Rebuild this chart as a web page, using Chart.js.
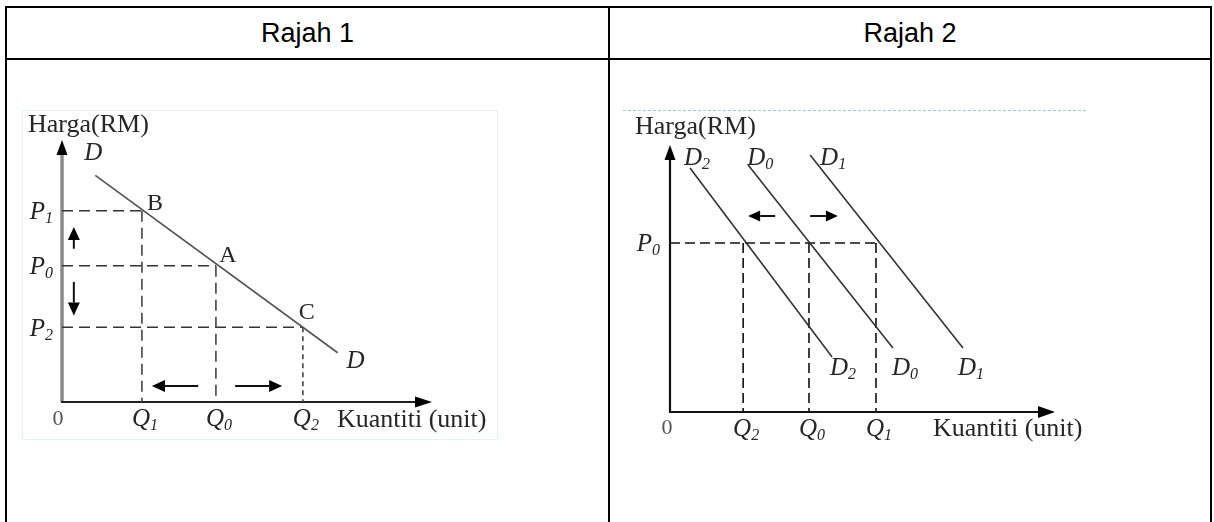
<!DOCTYPE html>
<html>
<head>
<meta charset="utf-8">
<script src="https://cdn.jsdelivr.net/npm/chart.js@4.4.1/dist/chart.umd.min.js"></script>
<style>
  html, body { margin: 0; padding: 0; background: #fff; }
  body { width: 1214px; height: 522px; overflow: hidden; position: relative; font-family: "Liberation Sans", Arial, sans-serif; }
  .frame { position: absolute; left: 5px; top: 6px; width: 1207px; height: 540px; border: 2px solid #000; box-sizing: border-box; }
  .hline { position: absolute; left: 5px; top: 58px; width: 1207px; height: 2px; background: #000; }
  .vline { position: absolute; left: 608px; top: 6px; width: 2px; height: 540px; background: #000; }
  .head { position: absolute; top: 8px; height: 50px; line-height: 50px; text-align: center; font-size: 27px; color: #000; }
  .box { position: absolute; top: 60px; height: 462px; }
</style>
</head>
<body>
<div class="frame"></div>
<div class="hline"></div>
<div class="vline"></div>
<div class="head" style="left:7px;width:601px;">Rajah 1</div>
<div class="head" style="left:610px;width:600px;">Rajah 2</div>
<div class="box" style="left:7px;width:601px;"><canvas id="rajah1"></canvas></div>
<div class="box" style="left:610px;width:600px;"><canvas id="rajah2"></canvas></div>

<script>
// ---- Rajah 1: movement along the demand curve ----
const r1CurveQ = [0.9, 7.45];
const r1CurveP = [8.65, 1.88];
const r1PriceLevels = [7.3, 5.2, 2.85];     // P1, P0, P2
const r1QtyLevels = [2.16, 4.16, 6.51];      // Q1, Q0, Q2
const r1PriceLabels = [["P", "1"], ["P", "0"], ["P", "2"]];
const r1QtyLabels = [["Q", "1"], ["Q", "0"], ["Q", "2"]];
const r1PointLabels = ["B", "A", "C"];
const r1PriceArrows = [[0.32, 5.85, 0.32, 6.68], [0.32, 4.58, 0.32, 3.3]];
const r1QtyArrows = [[3.68, 0.61, 2.43, 0.61], [4.68, 0.61, 5.95, 0.61]];

// ---- Rajah 2: shifts of the demand curve ----
const r2CurveNames = [["D", "2"], ["D", "0"], ["D", "1"]];
const r2StartQ = [0.52, 2.03, 3.64];
const r2StartP = [9.14, 9.25, 9.63];
const r2EndQ = [4.21, 5.79, 7.61];
const r2EndP = [2.06, 2.4, 2.4];
const r2PriceLevel = 6.33;                   // P0
const r2QtyLevels = [1.9, 3.61, 5.35];       // Q2, Q0, Q1
const r2QtyLabels = [["Q", "2"], ["Q", "0"], ["Q", "1"]];
const r2ShiftArrows = [[2.73, 7.34, 2.03, 7.34], [3.64, 7.34, 4.36, 7.34]];

const SERIF = '"Liberation Serif", "Times New Roman", serif';
const INK = "#262626";
Chart.defaults.animation = false;

function px(chart, q, p) {
  return [chart.scales.x.getPixelForValue(q), chart.scales.y.getPixelForValue(p)];
}

function arrow(ctx, x1, y1, x2, y2, len, half, color, lw) {
  const a = Math.atan2(y2 - y1, x2 - x1);
  const bx = x2 - Math.cos(a) * len, by = y2 - Math.sin(a) * len;
  ctx.save();
  ctx.strokeStyle = color;
  ctx.fillStyle = "#000";
  ctx.lineWidth = lw;
  ctx.beginPath();
  ctx.moveTo(x1, y1);
  ctx.lineTo(bx, by);
  ctx.stroke();
  ctx.beginPath();
  ctx.moveTo(x2, y2);
  ctx.lineTo(bx + Math.sin(a) * half, by - Math.cos(a) * half);
  ctx.lineTo(bx - Math.sin(a) * half, by + Math.cos(a) * half);
  ctx.closePath();
  ctx.fill();
  ctx.restore();
}

function subText(ctx, main, sub, x, cy, align, size, color) {
  const subSize = Math.round(size * 0.62);
  ctx.font = "italic " + size + "px " + SERIF;
  const w1 = ctx.measureText(main).width;
  ctx.font = "italic " + subSize + "px " + SERIF;
  const w2 = ctx.measureText(sub).width;
  const total = w1 + w2;
  const left = align === "right" ? x - total : align === "center" ? x - total / 2 : x;
  const base = cy + size * 0.33;
  ctx.fillStyle = color || INK;
  ctx.textAlign = "left";
  ctx.textBaseline = "alphabetic";
  ctx.font = "italic " + size + "px " + SERIF;
  ctx.fillText(main, left, base);
  ctx.font = "italic " + subSize + "px " + SERIF;
  ctx.fillText(sub, left + w1, base + size * 0.16);
}

function plainText(ctx, text, x, cy, align, size, color, italic) {
  ctx.font = (italic ? "italic " : "") + size + "px " + SERIF;
  ctx.fillStyle = color || INK;
  ctx.textAlign = align;
  ctx.textBaseline = "alphabetic";
  ctx.fillText(text, x, cy + size * 0.33);
}

function segment(q1, p1, q2, p2, color, width, dash) {
  return {
    data: [{ x: q1, y: p1 }, { x: q2, y: p2 }],
    showLine: true,
    borderColor: color,
    borderWidth: width,
    borderDash: dash || [],
    pointRadius: 0,
    clip: false
  };
}

function baseOptions(padding) {
  return {
    responsive: true,
    maintainAspectRatio: false,
    layout: { padding: padding },
    plugins: { legend: { display: false }, tooltip: { enabled: false } },
    scales: {
      x: { type: "linear", min: 0, max: 10, display: false },
      y: { type: "linear", min: 0, max: 10, display: false }
    }
  };
}

// Rajah 1 datasets
const r1Sets = [segment(r1CurveQ[0], r1CurveP[0], r1CurveQ[1], r1CurveP[1], "#555", 1.7)];
r1PriceLevels.forEach((p, i) => {
  const q = r1QtyLevels[i];
  r1Sets.push(segment(0, p, q, p, "#333", 1.5, [11, 6]));
  r1Sets.push(segment(q, p, q, 0, "#444", 1.6, i === 2 ? [5, 4] : [11, 6]));
});

const r1Draw = {
  id: "r1Draw",
  beforeDatasetsDraw(chart) {
    const ctx = chart.ctx;
    const [ox, oy] = px(chart, 0, 0);
    const [, ty] = px(chart, 0, 10);
    const [tx] = px(chart, 10, 0);
    ctx.save();
    ctx.strokeStyle = "#e4f1f5";
    ctx.lineWidth = 1;
    ctx.strokeRect(ox - 39.5, ty - 29.5, 475, 329);
    ctx.restore();
    arrow(ctx, ox, oy, ox, ty, 15, 5.5, "#8a8a8a", 3.5);
    arrow(ctx, ox - 1, oy, tx, oy, 17, 5.5, "#222", 2);
  },
  afterDatasetsDraw(chart) {
    const ctx = chart.ctx;
    const [ox, oy] = px(chart, 0, 0);
    const [, ty] = px(chart, 0, 10);
    const [tx] = px(chart, 10, 0);
    r1PriceArrows.concat(r1QtyArrows).forEach(a => {
      const [x1, y1] = px(chart, a[0], a[1]);
      const [x2, y2] = px(chart, a[2], a[3]);
      arrow(ctx, x1, y1, x2, y2, 13, 6, "#111", 2);
    });
    r1PriceLevels.forEach((p, i) => {
      subText(ctx, r1PriceLabels[i][0], r1PriceLabels[i][1], ox - 9, px(chart, 0, p)[1], "right", 25);
    });
    r1QtyLevels.forEach((q, i) => {
      subText(ctx, r1QtyLabels[i][0], r1QtyLabels[i][1], px(chart, q, 0)[0] + 3, oy + 16, "center", 25);
    });
    r1PointLabels.forEach((t, i) => {
      const [x, y] = px(chart, r1QtyLevels[i], r1PriceLevels[i]);
      const off = [[13, -9], [12, -12], [4, -16]][i];
      plainText(ctx, t, x + off[0], y + off[1], "center", 24);
    });
    const [sx, sy] = px(chart, r1CurveQ[0], r1CurveP[0]);
    const [ex, ey] = px(chart, r1CurveQ[1], r1CurveP[1]);
    plainText(ctx, "D", sx - 2, sy - 24, "center", 25, INK, true);
    plainText(ctx, "D", ex + 18, ey + 7, "center", 25, INK, true);
    plainText(ctx, "0", ox - 4, oy + 16, "center", 22, "#555");
    plainText(ctx, "Harga(RM)", ox - 34, ty - 17, "left", 26);
    plainText(ctx, "Kuantiti (unit)", tx - 95, oy + 16, "left", 26);
  }
};

new Chart(document.getElementById("rajah1"), {
  type: "scatter",
  data: { datasets: r1Sets },
  options: baseOptions({ left: 55, right: 176, top: 80, bottom: 120 }),
  plugins: [r1Draw]
});

// Rajah 2 datasets
const r2Sets = [];
r2StartQ.forEach((q, i) => {
  r2Sets.push(segment(q, r2StartP[i], r2EndQ[i], r2EndP[i], "#333", 1.6));
});
r2Sets.push(segment(0, r2PriceLevel, r2QtyLevels[2], r2PriceLevel, "#111", 1.6, [10, 5]));
r2QtyLevels.forEach(q => {
  r2Sets.push(segment(q, r2PriceLevel, q, 0, "#111", 1.6, [10, 5]));
});

const r2Draw = {
  id: "r2Draw",
  beforeDatasetsDraw(chart) {
    const ctx = chart.ctx;
    const [ox, oy] = px(chart, 0, 0);
    const [, ty] = px(chart, 0, 10);
    const [tx] = px(chart, 10, 0);
    ctx.save();
    ctx.strokeStyle = "#9ccbe0";
    ctx.lineWidth = 1;
    ctx.setLineDash([3, 2]);
    ctx.beginPath();
    ctx.moveTo(ox - 47, ty - 34.5);
    ctx.lineTo(ox + 418, ty - 34.5);
    ctx.stroke();
    ctx.restore();
    arrow(ctx, ox, oy + 1, ox, ty, 15, 5.5, "#111", 2.2);
    arrow(ctx, ox - 1, oy, tx, oy, 17, 6, "#111", 2.2);
  },
  afterDatasetsDraw(chart) {
    const ctx = chart.ctx;
    const [ox, oy] = px(chart, 0, 0);
    const [, ty] = px(chart, 0, 10);
    const [tx] = px(chart, 10, 0);
    r2ShiftArrows.forEach(a => {
      const [x1, y1] = px(chart, a[0], a[1]);
      const [x2, y2] = px(chart, a[2], a[3]);
      arrow(ctx, x1, y1, x2, y2, 12, 5.5, "#111", 2);
    });
    const topOff = [[7, -11], [12, -8], [23, 2]];
    const endOff = [[11, 10], [12, 19], [8, 19]];
    r2CurveNames.forEach((n, i) => {
      const [sx, sy] = px(chart, r2StartQ[i], r2StartP[i]);
      const [ex, ey] = px(chart, r2EndQ[i], r2EndP[i]);
      subText(ctx, n[0], n[1], sx + topOff[i][0], sy + topOff[i][1], "center", 25);
      subText(ctx, n[0], n[1], ex + endOff[i][0], ey + endOff[i][1], "center", 25);
    });
    subText(ctx, "P", "0", ox - 10, px(chart, 0, r2PriceLevel)[1], "right", 25);
    r2QtyLevels.forEach((q, i) => {
      subText(ctx, r2QtyLabels[i][0], r2QtyLabels[i][1], px(chart, q, 0)[0] + 3, oy + 16, "center", 25);
    });
    plainText(ctx, "0", ox - 3, oy + 15, "center", 22, "#555");
    plainText(ctx, "Harga(RM)", ox - 35, ty - 20, "left", 26);
    plainText(ctx, "Kuantiti (unit)", tx - 122, oy + 15, "left", 26);
  }
};

new Chart(document.getElementById("rajah2"), {
  type: "scatter",
  data: { datasets: r2Sets },
  options: baseOptions({ left: 60, right: 155, top: 85, bottom: 110 }),
  plugins: [r2Draw]
});
</script>
</body>
</html>
